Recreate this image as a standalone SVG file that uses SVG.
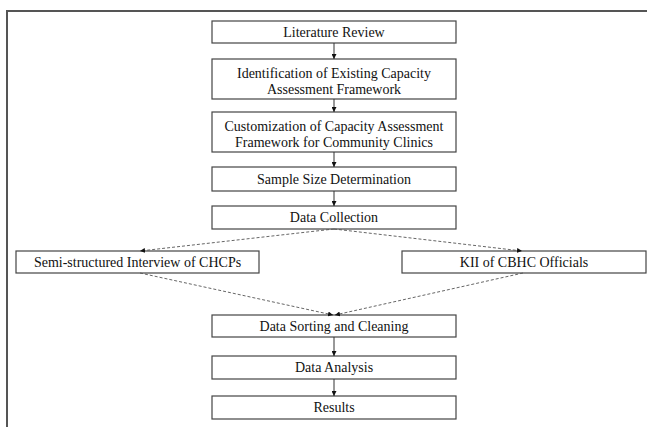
<svg xmlns="http://www.w3.org/2000/svg" width="647" height="427" viewBox="0 0 647 427">
<defs>
<style>
.box{fill:#fff;stroke:#444;stroke-width:1.2}
.t{font-family:"Liberation Serif","Times New Roman",serif;font-size:14px;fill:#111;text-anchor:middle}
.c{stroke:#333;stroke-width:1;fill:none}
.d{stroke:#555;stroke-width:0.9;fill:none;stroke-dasharray:3 2}
</style>
<marker id="ah" viewBox="0 0 8 8" refX="8" refY="4" markerWidth="5" markerHeight="5" orient="auto" markerUnits="userSpaceOnUse">
<path d="M0,0 L8,4 L0,8 Z" fill="#111"/>
</marker>
</defs>
<rect x="0" y="0" width="647" height="427" fill="#fff"/>
<path d="M7,427 V11 H647" fill="none" stroke="#555" stroke-width="2"/>
<g id="n1"><rect class="box" x="212" y="21" width="244" height="22"/><text class="t" x="334" y="37">Literature Review</text></g>
<g id="n2"><rect class="box" x="212" y="59" width="244" height="40"/><text class="t" x="334" y="78">Identification of Existing Capacity</text><text class="t" x="334" y="94">Assessment Framework</text></g>
<g id="n3"><rect class="box" x="212" y="112" width="244" height="40"/><text class="t" x="334" y="131">Customization of Capacity Assessment</text><text class="t" x="334" y="147">Framework for Community Clinics</text></g>
<g id="n4"><rect class="box" x="212" y="167" width="244" height="24"/><text class="t" x="334" y="184">Sample Size Determination</text></g>
<g id="n5"><rect class="box" x="212" y="206" width="244" height="23"/><text class="t" x="334" y="222">Data Collection</text></g>
<g id="n6"><rect class="box" x="16" y="251" width="243" height="22"/><text class="t" x="137.5" y="267">Semi-structured Interview of CHCPs</text></g>
<g id="n7"><rect class="box" x="402" y="251" width="244" height="22"/><text class="t" x="524" y="267">KII of CBHC Officials</text></g>
<g id="n8"><rect class="box" x="212" y="315" width="244" height="22"/><text class="t" x="334" y="331">Data Sorting and Cleaning</text></g>
<g id="n9"><rect class="box" x="212" y="356" width="244" height="23"/><text class="t" x="334" y="372">Data Analysis</text></g>
<g id="n10"><rect class="box" x="212" y="396" width="244" height="23"/><text class="t" x="334" y="412">Results</text></g>
<g id="connectors">
<line class="c" x1="334" y1="43" x2="334" y2="59" marker-end="url(#ah)"/>
<line class="c" x1="334" y1="99" x2="334" y2="112" marker-end="url(#ah)"/>
<line class="c" x1="334" y1="152" x2="334" y2="167" marker-end="url(#ah)"/>
<line class="c" x1="334" y1="191" x2="334" y2="206" marker-end="url(#ah)"/>
<line class="d" x1="334" y1="229" x2="140" y2="251" marker-end="url(#ah)"/>
<line class="d" x1="334" y1="229" x2="522" y2="251" marker-end="url(#ah)"/>
<line class="d" x1="140" y1="273" x2="333" y2="315" marker-end="url(#ah)"/>
<line class="d" x1="523" y1="273" x2="335" y2="315" marker-end="url(#ah)"/>
<line class="c" x1="334" y1="337" x2="334" y2="356" marker-end="url(#ah)"/>
<line class="c" x1="334" y1="379" x2="334" y2="396" marker-end="url(#ah)"/>
</g>
</svg>
